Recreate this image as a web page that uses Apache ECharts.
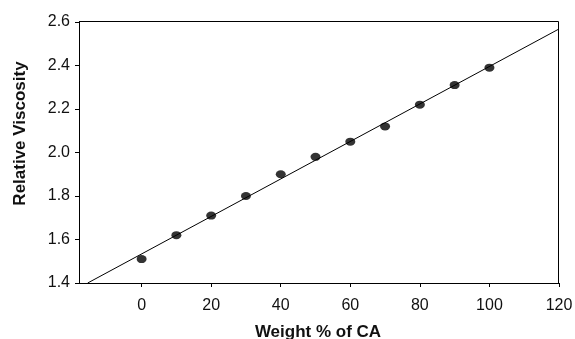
<!DOCTYPE html>
<html>
<head>
<meta charset="utf-8">
<script src="https://cdn.jsdelivr.net/npm/echarts@6/dist/echarts.min.js"></script>
<style>
  html, body { margin: 0; padding: 0; background: #fff; }
  #main { width: 575px; height: 339px; }
</style>
</head>
<body>
<div id="main"></div>
<script>
var weightCA = [0, 10, 20, 30, 40, 50, 60, 70, 80, 90, 100];
var viscosity = [1.51, 1.62, 1.71, 1.80, 1.90, 1.98, 2.05, 2.12, 2.22, 2.31, 2.39];
// trend line ends
var fitX = [-15.5, 120];
var fitY = [1.4, 2.568];
var xTicks = [0, 20, 40, 60, 80, 100, 120];

var points = weightCA.map(function (x, i) { return [x, viscosity[i]]; });
var fitLine = fitX.map(function (x, i) { return [x, fitY[i]]; });

var chart = echarts.init(document.getElementById('main'));

var fam = 'Liberation Sans, Arial, sans-serif';
var axisFont = { color: '#111', fontSize: 16, fontFamily: fam };

chart.setOption({
  animation: false,
  grid: { left: 79, top: 22, right: 16, bottom: 56, show: false, outerBoundsMode: 'none', containLabel: false },
  xAxis: {
    type: 'value',
    min: -18,
    max: 120,
    name: 'Weight % of CA',
    nameLocation: 'middle',
    nameGap: 41,
    nameTextStyle: { color: '#111', fontSize: 17, fontWeight: 'bold', fontFamily: fam, padding: [0, 2, 0, 0] },
    axisLine: { show: true, onZero: false, lineStyle: { color: '#000', width: 1 } },
    axisTick: { show: true, inside: false, length: 4, customValues: xTicks, lineStyle: { color: '#000' } },
    axisLabel: Object.assign({ margin: 15, customValues: xTicks }, axisFont),
    splitLine: { show: false }
  },
  yAxis: {
    type: 'value',
    min: 1.4,
    max: 2.6,
    interval: 0.2,
    name: 'Relative Viscosity',
    nameLocation: 'middle',
    nameGap: 50,
    nameTextStyle: { color: '#111', fontSize: 17, fontWeight: 'bold', fontFamily: fam, padding: [0, 0, 0, 38] },
    axisLine: { show: true, onZero: false, lineStyle: { color: '#000', width: 1 } },
    axisTick: { show: true, inside: false, length: 4, lineStyle: { color: '#000' } },
    axisLabel: Object.assign({ margin: 9, formatter: function (v) { return v.toFixed(1); } }, axisFont),
    splitLine: { show: false }
  },
  series: [
    {
      type: 'line',
      data: fitLine,
      showSymbol: false,
      symbol: 'none',
      lineStyle: { color: '#000', width: 1 },
      z: 2
    },
    {
      type: 'scatter',
      data: points,
      symbol: 'circle',
      symbolSize: [10, 8],
      itemStyle: { color: '#000' },
      z: 3
    }
  ],
  graphic: [
    {
      type: 'polyline',
      shape: { points: [[79, 21.5], [558.5, 21.5], [558.5, 283.5]] },
      style: { stroke: '#000', lineWidth: 1, fill: null },
      silent: true
    }
  ]
});
</script>
</body>
</html>
